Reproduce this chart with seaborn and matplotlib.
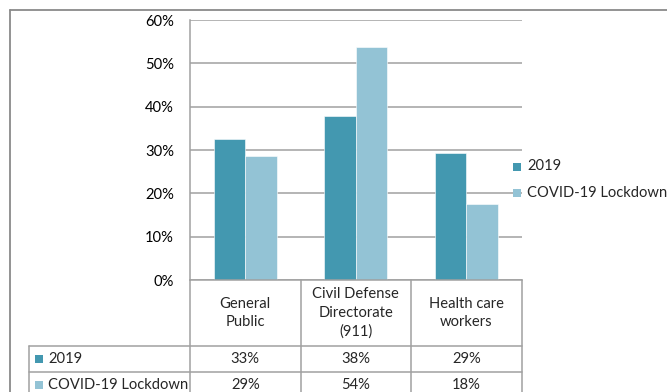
import matplotlib
matplotlib.use("Agg")
import matplotlib.pyplot as plt
import matplotlib.transforms as mtransforms
import seaborn as sns
import pandas as pd
from matplotlib.patches import Rectangle
from matplotlib.lines import Line2D
from matplotlib.ticker import PercentFormatter

# Data
categories = ["General\nPublic", "Civil Defense\nDirectorate\n(911)", "Health care\nworkers"]
series_names = ["2019", "COVID-19 Lockdown"]
values_2019 = [0.326, 0.378, 0.294]
values_lockdown = [0.287, 0.537, 0.176]
y_ticks = [0.0, 0.1, 0.2, 0.3, 0.4, 0.5, 0.6]

colors = ["#4398B0", "#93C3D5"]
grid_color = "#A0A0A0"
border_color = "#8A8A8A"
FS = 10.6

W, H = 667, 392


def fx(px):
    return px / W


def fy(py):
    return 1 - py / H


sns.set_style("white")
plt.rcParams["font.family"] = ["Lato", "DejaVu Sans"]

fig = plt.figure(figsize=(W / 100, H / 100), dpi=100)
ax = fig.add_axes([fx(190), fy(280), (521.7 - 190) / W, 260 / H])

df = pd.DataFrame({
    "category": categories * len(series_names),
    "series": [s for s in series_names for _ in categories],
    "value": values_2019 + values_lockdown,
})

sns.barplot(data=df, x="category", y="value", hue="series",
            hue_order=series_names, order=categories, palette=colors,
            saturation=1, width=0.57, edgecolor="white", linewidth=0.4,
            legend=False, ax=ax)

ax.set_xlim(-0.5, len(categories) - 0.5)
ax.set_ylim(0, 0.6)
ax.set_yticks(y_ticks)
ax.yaxis.set_major_formatter(PercentFormatter(1.0, decimals=0))
ax.set_xticks([])
ax.set_xlabel("")
ax.set_ylabel("")
ax.grid(axis="y", color=grid_color, linewidth=1.1)
ax.set_axisbelow(True)
for side in ("top", "right"):
    ax.spines[side].set_visible(False)
for side in ("left", "bottom"):
    ax.spines[side].set_color(grid_color)
    ax.spines[side].set_linewidth(1.1)
ax.tick_params(axis="y", length=3.6, width=0.9, color=grid_color, pad=8,
               labelsize=FS, labelcolor="black")

# Data table below the axis
blend = mtransforms.blended_transform_factory(ax.transData, fig.transFigure)
for i in range(len(categories) + 1):
    fig.add_artist(Line2D([i - 0.5, i - 0.5], [fy(280), fy(410)],
                          transform=blend, color=grid_color, lw=1.1))
for row_y in (346, 372):
    fig.add_artist(Line2D([fx(29), fx(521.7)], [fy(row_y), fy(row_y)],
                          transform=fig.transFigure, color=grid_color, lw=1.1))
fig.add_artist(Line2D([fx(29), fx(29)], [fy(346), fy(410)],
                      transform=fig.transFigure, color=grid_color, lw=1.1))

for i, cat in enumerate(categories):
    fig.text(i, fy(313), cat, transform=blend, ha="center", va="center",
             fontsize=FS, linespacing=1.45)

row_centers = [359, 385]
for series, vals, col, yc in zip(series_names, [values_2019, values_lockdown],
                                 colors, row_centers):
    fig.add_artist(Rectangle((fx(35), fy(yc + 4)), 8 / W, 8 / H,
                             transform=fig.transFigure, facecolor=col,
                             edgecolor="none"))
    fig.text(fx(48), fy(yc), series, ha="left", va="center", fontsize=FS)
    for i, v in enumerate(vals):
        fig.text(i, fy(yc), f"{v:.0%}", transform=blend,
                 ha="center", va="center", fontsize=FS)

# Legend
for series, col, yc in zip(series_names, colors, [166.5, 193]):
    fig.add_artist(Rectangle((fx(513), fy(yc + 4)), 8 / W, 8 / H,
                             transform=fig.transFigure, facecolor=col,
                             edgecolor="none"))
    fig.text(fx(527), fy(yc), series, ha="left", va="center", fontsize=FS)

# Chart area border
fig.add_artist(Line2D([fx(9.5), 1.02], [fy(10), fy(10)],
                      transform=fig.transFigure, color=border_color, lw=1.3))
fig.add_artist(Line2D([fx(9.5), fx(9.5)], [fy(10), -0.02],
                      transform=fig.transFigure, color=border_color, lw=1.3))

fig.savefig("out.png", dpi=100)
